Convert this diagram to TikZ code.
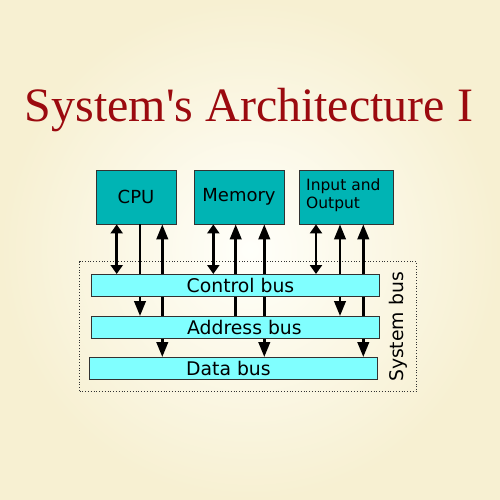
\documentclass[tikz,border=0pt]{standalone}
\usepackage{fontspec}
\setmainfont{DejaVu Sans}
\newfontfamily\titlefont{Liberation Serif}
\usetikzlibrary{arrows.meta}
\definecolor{bgin}{RGB}{255,255,250}
\definecolor{bgout}{RGB}{247,240,210}
\definecolor{boxteal}{RGB}{0,180,180}
\definecolor{barcyan}{RGB}{128,255,255}
\definecolor{titlered}{RGB}{155,10,15}
\definecolor{edgegray}{RGB}{50,50,50}
\begin{document}
\begin{tikzpicture}[x=1pt,y=-1pt,
  unitbox/.style={draw=edgegray,line width=0.8pt,fill=boxteal,minimum height=54pt,inner sep=0pt},
  busbar/.style={draw=edgegray,line width=0.8pt,fill=barcyan,minimum width=288pt,minimum height=22pt,inner sep=0pt},
  lbl/.style={font=\fontsize{18}{20}\selectfont,inner sep=0pt},
  buslbl/.style={font=\fontsize{18.8}{20}\selectfont,inner sep=0pt},
  wire/.style={line width=2.5pt},
  bigtip/.style={wire,-{Triangle[length=15pt,width=11.5pt]}},
  bigboth/.style={wire,{Triangle[length=15pt,width=11.5pt]}-{Triangle[length=15pt,width=11.5pt]}},
  smallboth/.style={wire,{Triangle[length=9pt,width=12pt]}-{Triangle[length=9pt,width=12pt]}}]
\useasboundingbox (0,0) rectangle (500,500);
\shade[inner color=bgin,outer color=bgout] (0,0) rectangle (500,500);
\node[anchor=base,text=titlered,inner sep=0pt] (title) at (249,121.7)
  {\resizebox{448pt}{!}{\titlefont\fontsize{46}{50}\selectfont System's Architecture I}};
% boxes
\node[unitbox,minimum width=80pt] (cpu) at (136,197) {};
\node[unitbox,minimum width=90pt] (mem) at (239,197) {};
\node[unitbox,minimum width=94pt] (io) at (346,197) {};
\node[lbl] (cpul) at (cpu.center) {CPU};
\node[lbl] (meml) at (mem.center) {Memory};
\node[inner sep=0pt,anchor=west,align=left,font=\fontsize{15.5}{18}\selectfont] (iol) at (306,195) {Input and\\Output};
% system bus frame
\node[draw=edgegray,dotted,line width=0.8pt,minimum width=337pt,minimum height=130pt,inner sep=0pt] (sys) at (248,326.7) {};
\node[buslbl,rotate=90] (sysl) at (398,327) {System bus};
% x positions
\coordinate (a1) at (116.7,0);
\coordinate (a2) at (140,0);
\coordinate (a3) at (162.3,0);
\coordinate (m1) at (213.3,0);
\coordinate (m2) at (235.7,0);
\coordinate (m3) at (264.3,0);
\coordinate (i1) at (316,0);
\coordinate (i2) at (340,0);
\coordinate (i3) at (363.3,0);
% bar positions
\path (235,285) coordinate (ctrlc) (235,327) coordinate (addrc) (233,368) coordinate (datac);
\path (ctrlc) +(0,-11) coordinate (ctrltop) (addrc) +(0,-11) coordinate (addrtop) (datac) +(0,-11) coordinate (datatop);
% wires
\draw[smallboth] (cpu.south -| a1) -- (ctrltop -| a1);
\draw[bigtip] (cpu.south -| a2) -- (addrtop -| a2);
\draw[bigboth] (cpu.south -| a3) -- (datatop -| a3);
\draw[smallboth] (mem.south -| m1) -- (ctrltop -| m1);
\draw[bigtip] (addrtop -| m2) -- (mem.south -| m2);
\draw[bigboth] (mem.south -| m3) -- (datatop -| m3);
\draw[smallboth] (io.south -| i1) -- (ctrltop -| i1);
\draw[bigboth] (io.south -| i2) -- (addrtop -| i2);
\draw[bigboth] (io.south -| i3) -- (datatop -| i3);
% bars
\node[busbar] (ctrl) at (ctrlc) {};
\node[busbar] (addr) at (addrc) {};
\node[busbar] (data) at (datac) {};
\node[buslbl,anchor=west] (ctrll) at (186.5,285) {Control bus};
\node[buslbl,anchor=west] (addrl) at (187,327) {Address bus};
\node[buslbl,anchor=west] (datal) at (186,368) {Data bus};
\end{tikzpicture}
\end{document}
